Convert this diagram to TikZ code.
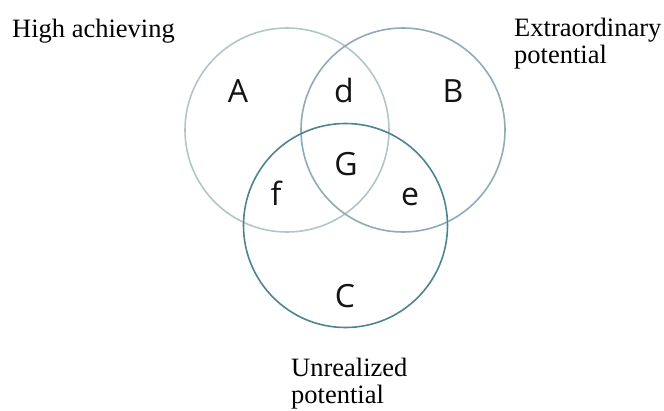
\documentclass[tikz,border=0pt]{standalone}
\usepackage{fontspec}
\setmainfont{Liberation Serif}
\newfontfamily\lettersfont{Open Sans}
\definecolor{cA}{HTML}{B2C5CA}
\definecolor{cB}{HTML}{8FABB6}
\definecolor{cC}{HTML}{4D8394}
\begin{document}
\begin{tikzpicture}[x=1pt,y=-1pt,
  ring/.style={circle, draw, line width=1.6pt, minimum size=204pt, inner sep=0pt},
  letter/.style={font=\lettersfont\fontsize{32}{32}\selectfont, anchor=base, inner sep=0pt, text=black!92},
  caption/.style={font=\fontsize{26.5}{27}\selectfont, align=left, anchor=base west, inner sep=0pt, text=black}]
\useasboundingbox (0,0) rectangle (664,410);
\node[ring, draw=cA] (circA) at (287,130) {};
\node[ring, draw=cB] (circB) at (403,130) {};
\node[ring, draw=cC] (circC) at (345.5,225.5) {};
\node[letter] (lA) at (238,102) {A};
\node[letter] (ld) at (344,102) {d};
\node[letter] (lB) at (453,102) {B};
\node[letter] (lG) at (346,175) {G};
\node[letter] (lf) at (276,205) {f};
\node[letter] (le) at (410,205) {e};
\node[letter] (lC) at (345,307) {C};
\node[caption] (tA) at (12,37) {High achieving};
\node[caption] (tB) at (514,63) {Extraordinary\\potential};
\node[caption] (tC) at (291,403) {Unrealized\\potential};
\end{tikzpicture}
\end{document}
